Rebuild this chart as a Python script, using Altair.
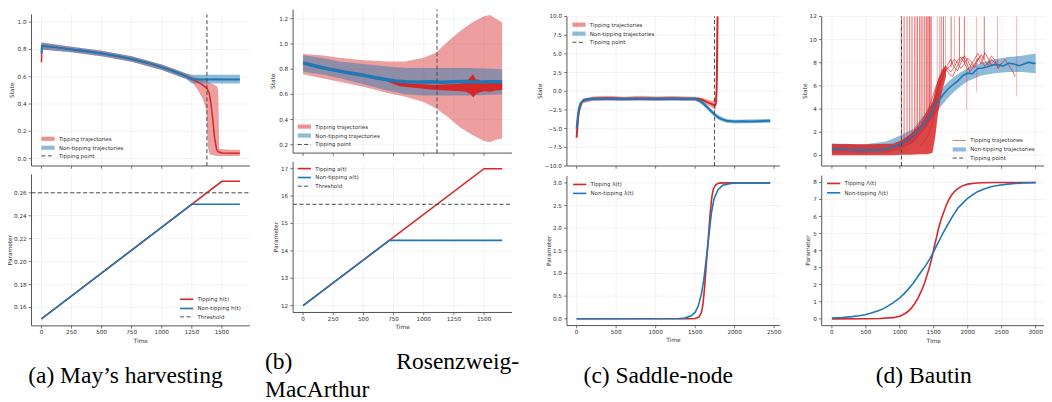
import altair as alt
import pandas as pd

W, H = 1044, 394
RED = "#d62728"
BLUE = "#1f77b4"
DASHC = "#4a4a4a"
GRIDC = "#ebebeb"
AXC = "#555555"
TXT = "#333333"
FONT = "DejaVu Sans"
SERIF = "Liberation Serif"

# ---------------- (a) May's harvesting ----------------
A_RED_T = [0, 4, 125, 250, 375, 500, 625, 750, 875, 1000, 1100, 1200, 1250, 1300, 1340, 1376, 1395, 1410, 1425, 1440, 1455, 1470, 1500, 1575, 1650]
A_RED_V = [0.705, 0.825, 0.815, 0.80, 0.786, 0.77, 0.752, 0.73, 0.703, 0.67, 0.64, 0.605, 0.585, 0.56, 0.54, 0.515, 0.48, 0.40, 0.28, 0.15, 0.07, 0.05, 0.042, 0.04, 0.04]
A_BLUE_T = [0, 4, 125, 250, 375, 500, 625, 750, 875, 1000, 1100, 1200, 1250, 1350, 1450, 1550, 1650]
A_BLUE_V = [0.77, 0.827, 0.815, 0.80, 0.786, 0.77, 0.752, 0.73, 0.703, 0.67, 0.64, 0.605, 0.582, 0.58, 0.582, 0.579, 0.58]
A_RBAND_T = [0, 250, 500, 750, 1000, 1200, 1250, 1300, 1340, 1370, 1385, 1400, 1460, 1470, 1478, 1560, 1650]
A_RBAND_LO = [0.80, 0.78, 0.75, 0.71, 0.65, 0.585, 0.565, 0.50, 0.44, 0.36, 0.08, 0.03, 0.02, 0.02, 0.02, 0.02, 0.02]
A_RBAND_HI = [0.85, 0.82, 0.79, 0.75, 0.69, 0.625, 0.605, 0.59, 0.575, 0.565, 0.56, 0.555, 0.53, 0.50, 0.07, 0.065, 0.065]
A_BBAND_T = [0, 250, 500, 750, 1000, 1200, 1250, 1650]
A_BBAND_LO = [0.80, 0.78, 0.75, 0.71, 0.65, 0.585, 0.55, 0.55]
A_BBAND_HI = [0.85, 0.82, 0.79, 0.75, 0.69, 0.625, 0.615, 0.615]
A_TIP = 1376
A_H_RED_T = [0, 1500, 1650]
A_H_RED_V = [0.15, 0.27, 0.27]
A_H_BLUE_T = [0, 1250, 1650]
A_H_BLUE_V = [0.15, 0.25, 0.25]
A_THRESH = 0.26

# ---------------- (b) Rosenzweig-MacArthur ----------------
B_BLUE_T = [0, 100, 217, 350, 490, 600, 700, 765, 850, 950, 1050, 1150, 1250, 1350, 1450, 1550, 1650]
B_BLUE_V = [0.85, 0.825, 0.80, 0.775, 0.754, 0.732, 0.716, 0.707, 0.70, 0.697, 0.70, 0.696, 0.70, 0.702, 0.697, 0.70, 0.70]
B_RED_T = [0, 100, 217, 350, 490, 600, 700, 760, 820, 900, 1000, 1100, 1176, 1250, 1320, 1370, 1396, 1410, 1425, 1440, 1470, 1500, 1540, 1588, 1620, 1650]
B_RED_V = [0.85, 0.825, 0.80, 0.775, 0.754, 0.732, 0.712, 0.695, 0.68, 0.672, 0.665, 0.66, 0.654, 0.652, 0.648, 0.66, 0.70, 0.62, 0.66, 0.64, 0.67, 0.655, 0.665, 0.66, 0.668, 0.665]
B_RCORE_T = [700, 800, 900, 1000, 1100, 1200, 1300, 1350, 1390, 1410, 1430, 1460, 1500, 1550, 1600, 1650]
B_RCORE_LO = [0.70, 0.665, 0.655, 0.645, 0.635, 0.63, 0.625, 0.62, 0.60, 0.575, 0.60, 0.615, 0.625, 0.62, 0.63, 0.635]
B_RCORE_HI = [0.72, 0.695, 0.685, 0.68, 0.675, 0.68, 0.685, 0.70, 0.74, 0.76, 0.72, 0.715, 0.69, 0.70, 0.69, 0.69]
B_RBAND_T = [0, 150, 300, 500, 700, 850, 1000, 1100, 1200, 1300, 1400, 1500, 1550, 1600, 1650]
B_RBAND_LO = [0.76, 0.73, 0.70, 0.66, 0.61, 0.58, 0.54, 0.49, 0.42, 0.34, 0.28, 0.23, 0.22, 0.24, 0.25]
B_RBAND_HI = [0.92, 0.91, 0.89, 0.87, 0.86, 0.86, 0.89, 0.93, 1.02, 1.10, 1.17, 1.22, 1.23, 1.20, 1.17]
B_BBAND_T = [0, 150, 300, 500, 700, 850, 1000, 1200, 1400, 1650]
B_BBAND_LO = [0.78, 0.76, 0.73, 0.68, 0.63, 0.60, 0.59, 0.59, 0.59, 0.60]
B_BBAND_HI = [0.91, 0.89, 0.86, 0.84, 0.82, 0.81, 0.81, 0.81, 0.81, 0.80]
B_TIP = 1110
B_A_RED_T = [0, 1500, 1650]
B_A_RED_V = [12, 17, 17]
B_A_BLUE_T = [0, 715, 1650]
B_A_BLUE_V = [12, 14.383, 14.383]
B_THRESH = 15.7

# ---------------- (c) Saddle-node ----------------
C_RED_T = [0, 15, 30, 50, 80, 120, 200, 400, 600, 800, 1000, 1200, 1400, 1500, 1550, 1600, 1650, 1700, 1730, 1755, 1765, 1772, 1777, 1781, 1784]
C_RED_V = [-6.2, -4.0, -2.6, -1.7, -1.3, -1.1, -1.0, -0.95, -1.0, -0.97, -1.0, -0.98, -1.0, -1.0, -1.05, -1.2, -1.45, -1.65, -1.8, -1.85, -1.4, 0.0, 3.0, 7.0, 10.0]
C_BLUE_T = [0, 15, 30, 50, 80, 120, 200, 400, 600, 800, 1000, 1200, 1400, 1500, 1550, 1600, 1650, 1700, 1750, 1800, 1850, 1900, 2000, 2100, 2200, 2300, 2450]
C_BLUE_V = [-5.0, -3.4, -2.3, -1.6, -1.25, -1.1, -1.0, -1.0, -1.02, -1.0, -1.0, -1.02, -1.0, -1.0, -1.2, -1.6, -2.1, -2.65, -3.15, -3.55, -3.8, -3.95, -4.05, -4.0, -4.05, -4.0, -3.95]
C_RBAND_T = [0, 30, 80, 200, 400, 600, 800, 1000, 1200, 1400, 1500, 1600, 1650, 1720, 1750, 1765, 1775, 1784]
C_RBAND_LO = [-6.6, -3.1, -1.6, -1.3, -1.25, -1.3, -1.25, -1.3, -1.25, -1.3, -1.3, -1.55, -1.8, -2.2, -2.5, -2.3, -1.0, 6.0]
C_RBAND_HI = [-5.4, -2.0, -1.0, -0.7, -0.6, -0.75, -0.6, -0.7, -0.65, -0.7, -0.75, -0.9, -1.1, -1.3, -1.0, 0.0, 10.0, 10.0]
C_BBAND_T = [0, 30, 80, 200, 1500, 1600, 1700, 1750, 1800, 1900, 2000, 2450]
C_BBAND_LO = [-5.5, -2.6, -1.5, -1.25, -1.25, -1.9, -2.95, -3.45, -3.85, -4.25, -4.3, -4.25]
C_BBAND_HI = [-4.5, -1.9, -1.0, -0.8, -0.8, -1.3, -2.3, -2.8, -3.2, -3.7, -3.8, -3.7]
C_TIP = 1745
C_L_RED_T = [0, 1450, 1500, 1550, 1580, 1600, 1620, 1640, 1655, 1670, 1690, 1710, 1730, 1760, 1800, 1900, 2450]
C_L_RED_V = [0.0, 0.0, 0.005, 0.04, 0.14, 0.33, 0.69, 1.17, 1.5, 1.85, 2.31, 2.67, 2.86, 2.96, 2.995, 3.0, 3.0]
C_L_BLUE_T = [0, 1300, 1370, 1450, 1500, 1540, 1580, 1610, 1640, 1660, 1685, 1710, 1740, 1790, 1850, 1950, 2050, 2450]
C_L_BLUE_V = [0.0, 0.005, 0.015, 0.065, 0.14, 0.28, 0.55, 0.86, 1.3, 1.6, 2.02, 2.38, 2.65, 2.85, 2.95, 2.99, 3.0, 3.0]

# ---------------- (d) Bautin ----------------
D_BLUE_T = [0, 200, 440, 600, 730, 830, 930, 1024, 1100, 1170, 1250, 1317, 1415, 1470, 1512, 1560, 1610, 1660, 1707, 1780, 1854, 1930, 2000, 2070, 2146, 2220, 2293, 2360, 2439, 2520, 2600, 2680, 2760, 2829, 2900, 2960, 3000]
D_BLUE_V = [0.57, 0.5, 0.45, 0.45, 0.47, 0.6, 0.8, 1.0, 1.3, 1.57, 2.0, 2.43, 3.14, 3.7, 4.29, 4.7, 5.0, 5.4, 5.71, 6.1, 6.43, 6.9, 7.1, 7.05, 7.5, 7.55, 7.65, 7.8, 7.85, 7.7, 7.95, 7.9, 7.75, 7.9, 8.05, 7.95, 7.95]
D_BBAND_T = [0, 400, 800, 1000, 1200, 1400, 1500, 1600, 1700, 1800, 1900, 2000, 2200, 2400, 2600, 2800, 3000]
D_BBAND_LO = [0.2, 0.15, 0.2, 0.5, 1.1, 2.5, 3.4, 4.2, 4.9, 5.5, 6.0, 6.4, 6.9, 7.1, 7.2, 7.2, 7.1]
D_BBAND_HI = [1.0, 0.9, 1.2, 1.7, 2.3, 3.8, 4.8, 5.6, 6.3, 6.8, 7.2, 7.5, 8.0, 8.3, 8.5, 8.6, 8.8]
D_RBAND_T = [0, 500, 900, 1024, 1150, 1300, 1400, 1480, 1520, 1560, 1620, 1680]
D_RBAND_LO = [0.0, 0.0, 0.0, 0.05, 0.05, 0.1, 0.1, 0.2, 1.5, 3.5, 5.5, 6.8]
D_RBAND_HI = [1.0, 0.95, 1.0, 1.3, 1.8, 2.6, 3.6, 4.6, 5.6, 6.5, 7.4, 7.8]
D_TR1_T = [1000, 1100, 1200, 1300, 1380, 1450, 1500, 1550, 1600, 1650, 1700, 1750, 1800, 1850, 1900, 1950, 2000, 2050, 2100, 2150, 2200, 2250, 2300, 2350, 2400, 2450, 2500, 2550, 2600, 2650, 2700]
D_TR1_V = [1.0, 1.2, 1.6, 2.2, 2.8, 3.5, 4.3, 5.5, 6.4, 7.0, 7.5, 7.8, 8.3, 8.0, 7.5, 7.9, 8.4, 8.1, 7.6, 8.2, 8.7, 8.2, 7.8, 8.3, 8.0, 7.6, 7.9, 8.3, 7.8, 7.4, 6.8]
D_TR2_T = [1150, 1250, 1350, 1450, 1500, 1550, 1600, 1650, 1700, 1750, 1800, 1850, 1900, 1950, 2000, 2050, 2100, 2150, 2200, 2250, 2300, 2350, 2400, 2450, 2500]
D_TR2_V = [1.0, 1.5, 2.3, 3.3, 4.4, 5.6, 6.6, 7.3, 7.6, 7.2, 7.6, 8.2, 8.5, 8.0, 7.4, 7.8, 8.3, 8.8, 8.3, 7.7, 8.0, 8.6, 8.2, 7.5, 8.0]
D_TR3_T = [1300, 1400, 1480, 1540, 1600, 1650, 1700, 1750, 1800, 1850, 1900, 1950, 2000, 2050, 2100, 2150, 2200, 2250, 2300, 2350, 2400, 2450]
D_TR3_V = [0.8, 1.5, 2.8, 4.8, 6.2, 7.0, 7.8, 8.3, 7.6, 7.3, 8.0, 8.6, 8.2, 7.6, 7.9, 8.4, 7.9, 8.9, 8.4, 7.7, 7.9, 8.2]
D_TR4_T = [1050, 1150, 1250, 1350, 1420, 1480, 1530, 1580, 1630, 1680, 1730, 1780, 1830, 1880, 1930, 1985, 2030, 2080, 2132, 2180]
D_TR4_V = [1.2, 1.7, 2.4, 3.2, 4.0, 5.0, 5.9, 6.6, 7.1, 7.5, 7.0, 6.8, 7.5, 8.1, 8.5, 8.0, 7.2, 7.6, 8.1, 8.5]
D_SPIKE_T = [1024, 1063, 1107, 1146, 1180, 1220, 1259, 1293, 1327, 1366, 1390, 1415, 1439, 1463, 1610, 1644, 1756, 1878, 1951, 2244]
D_SPIKE_LO = [0.8, 1.0, 1.1, 1.3, 1.5, 1.7, 2.0, 2.2, 2.5, 3.0, 3.2, 3.5, 3.8, 4.2, 7.0, 7.2, 7.6, 8.0, 8.0, 8.3]
D_SPIKE_HI = [12] * 20
D_SPIKE2_T = [1240, 1310, 1345, 1400, 1430, 1450, 1551, 1585, 1673, 1805, 1985, 2132, 2439, 2722]
D_SPIKE2_LO = [1.8, 2.3, 2.7, 3.3, 3.7, 4.0, 6.0, 6.5, 7.4, 7.8, 3.9, 5.5, 7.5, 5.1]
D_SPIKE2_HI = [12, 12, 12, 12, 12, 12, 12, 12, 12, 12, 8.2, 12, 12, 12]
D_TIP = 1025
D_L_RED_T = [0, 500, 700, 900, 1000, 1073, 1120, 1170, 1220, 1268, 1320, 1366, 1400, 1439, 1465, 1488, 1512, 1537, 1570, 1610, 1650, 1683, 1720, 1756, 1800, 1854, 1920, 2000, 2100, 2195, 2400, 3000]
D_L_RED_V = [0.0, 0.005, 0.02, 0.07, 0.15, 0.3, 0.43, 0.63, 0.9, 1.22, 1.65, 2.12, 2.55, 3.05, 3.45, 3.85, 4.3, 4.72, 5.3, 5.85, 6.3, 6.65, 6.98, 7.22, 7.45, 7.64, 7.8, 7.9, 7.95, 7.98, 8.0, 8.0]
D_L_BLUE_T = [0, 150, 293, 400, 488, 580, 683, 760, 829, 900, 976, 1050, 1122, 1200, 1268, 1330, 1390, 1440, 1488, 1550, 1610, 1670, 1732, 1790, 1854, 1930, 2000, 2070, 2146, 2240, 2341, 2460, 2585, 2700, 2829, 3000]
D_L_BLUE_V = [0.05, 0.08, 0.13, 0.18, 0.24, 0.34, 0.47, 0.6, 0.76, 0.94, 1.15, 1.42, 1.73, 2.1, 2.5, 2.85, 3.18, 3.5, 3.86, 4.35, 4.83, 5.28, 5.71, 6.1, 6.49, 6.8, 7.07, 7.27, 7.46, 7.62, 7.75, 7.84, 7.9, 7.94, 7.97, 7.99]

# tick values
XT_AB = [0, 250, 500, 750, 1000, 1250, 1500]
XT_C = [0, 500, 1000, 1500, 2000, 2500]
XT_D = [0, 500, 1000, 1500, 2000, 2500, 3000]

LEG_TOP = ["Tipping trajectories", "Non-tipping trajectories", "Tipping point"]
CAPTIONS = ["(a) May\u2019s harvesting", "(b)", "Rosenzweig-", "MacArthur", "(c) Saddle-node", "(d) Bautin"]

# ---------------- layout (pixels) ----------------
PANELS = {
    "a_top": dict(xd=[-82.5, 1732.5], xr=[23.7, 243.7], yd=[-0.054, 1.056], yr=[157.7, 5.0],
                  xt=XT_AB, yt=[0.0, 0.2, 0.4, 0.6, 0.8, 1.0], yfmt=".1f", xlab=False, ytitle="State", ytx=-19.4),
    "a_bot": dict(xd=[-82.5, 1732.5], xr=[23.7, 243.7], yd=[0.144, 0.276], yr=[318.8, 166.2],
                  xt=XT_AB, yt=[0.16, 0.18, 0.20, 0.22, 0.24, 0.26], yfmt=".2f", xlab=True, ytitle="Parameter", ytx=-21.4),
    "b_top": dict(xd=[-82.5, 1732.5], xr=[287.3, 508.0], yd=[0.134, 1.273], yr=[144.7, 0.0],
                  xt=XT_AB, yt=[0.2, 0.4, 0.6, 0.8, 1.0, 1.2], yfmt=".1f", xlab=False, ytitle="State", ytx=-20.3),
    "b_bot": dict(xd=[-82.5, 1732.5], xr=[287.3, 508.0], yd=[11.75, 17.25], yr=[305.3, 153.5],
                  xt=XT_AB, yt=[12, 13, 14, 15, 16, 17], yfmt="d", xlab=True, ytitle="Parameter", ytx=-17.6),
    "c_top": dict(xd=[-122.5, 2572.5], xr=[563.25, 777.8], yd=[-10, 10], yr=[157.7, 7.0],
                  xt=XT_C, yt=[-10, -7.5, -5, -2.5, 0, 2.5, 5, 7.5, 10], yfmt=".1f", xlab=False, ytitle="State", ytx=-27.3),
    "c_bot": dict(xd=[-122.5, 2572.5], xr=[563.25, 777.8], yd=[-0.15, 3.15], yr=[318.5, 167.9],
                  xt=XT_C, yt=[0, 0.5, 1.0, 1.5, 2.0, 2.5, 3.0], yfmt=".1f", xlab=True, ytitle="Parameter", ytx=-18.0),
    "d_top": dict(xd=[-150, 3150], xr=[820.0, 1045.8], yd=[-0.92, 12], yr=[157.7, 7.0],
                  xt=XT_D, yt=[0, 2, 4, 6, 8, 10, 12], yfmt="d", xlab=False, ytitle="State", ytx=-17.3),
    "d_bot": dict(xd=[-150, 3150], xr=[820.0, 1045.8], yd=[-0.4, 8.4], yr=[318.6, 167.4],
                  xt=XT_D, yt=[0, 1, 2, 3, 4, 5, 6, 7, 8], yfmt="d", xlab=True, ytitle="Parameter", ytx=-13.7),
}

TICK_FS = 5.7
TITLE_FS = 5.9


def scales(P):
    xs = alt.Scale(domain=P["xd"], range=P["xr"], nice=False, zero=False)
    ys = alt.Scale(domain=P["yd"], range=P["yr"], nice=False, zero=False, clamp=True)
    return xs, ys


def frame(P):
    """Grid lines, spines, ticks, tick labels and axis titles drawn through the panel scales."""
    xs, ys = scales(P)
    x0, x1 = P["xd"]
    y0, y1 = P["yd"]
    dx = pd.DataFrame({"v": P["xt"]})
    dy = pd.DataFrame({"v": P["yt"]})
    one = pd.DataFrame({"k": [0]})
    out = []
    # grid
    out.append(alt.Chart(dx).mark_rule(color=GRIDC, strokeWidth=0.6).encode(
        x=alt.X("v:Q", scale=xs, axis=None),
        y=alt.Y(datum=y0, scale=ys, axis=None), y2=alt.Y2(datum=y1)))
    out.append(alt.Chart(dy).mark_rule(color=GRIDC, strokeWidth=0.6).encode(
        y=alt.Y("v:Q", scale=ys, axis=None),
        x=alt.X(datum=x0, scale=xs, axis=None), x2=alt.X2(datum=x1)))
    # spines (left and bottom)
    out.append(alt.Chart(one).mark_rule(color=AXC, strokeWidth=1).encode(
        x=alt.X(datum=x0, scale=xs, axis=None), x2=alt.X2(datum=x1),
        y=alt.Y(datum=y0, scale=ys, axis=None)))
    out.append(alt.Chart(one).mark_rule(color=AXC, strokeWidth=1).encode(
        y=alt.Y(datum=y0, scale=ys, axis=None), y2=alt.Y2(datum=y1),
        x=alt.X(datum=x0, scale=xs, axis=None)))
    # ticks
    out.append(alt.Chart(dx).mark_rule(color=AXC, strokeWidth=0.8, y2Offset=2.8).encode(
        x=alt.X("v:Q", scale=xs, axis=None),
        y=alt.Y(datum=y0, scale=ys, axis=None), y2=alt.Y2(datum=y0)))
    out.append(alt.Chart(dy).mark_rule(color=AXC, strokeWidth=0.8, x2Offset=-2.8).encode(
        y=alt.Y("v:Q", scale=ys, axis=None),
        x=alt.X(datum=x0, scale=xs, axis=None), x2=alt.X2(datum=x0)))
    # tick labels
    if P["xlab"]:
        out.append(alt.Chart(dx).mark_text(font=FONT, fontSize=TICK_FS, color=TXT, baseline="middle",
                                           align="center", dy=6.6).encode(
            x=alt.X("v:Q", scale=xs, axis=None), y=alt.Y(datum=y0, scale=ys, axis=None),
            text=alt.Text("v:Q", format="d")))
        out.append(alt.Chart(pd.DataFrame({"s": ["Time"]})).mark_text(
            font=FONT, fontSize=TITLE_FS, color=TXT, baseline="middle", align="center", dy=15.0).encode(
            x=alt.X(datum=(x0 + x1) / 2, scale=xs, axis=None), y=alt.Y(datum=y0, scale=ys, axis=None),
            text="s:N"))
    out.append(alt.Chart(dy).mark_text(font=FONT, fontSize=TICK_FS, color=TXT, baseline="middle",
                                       align="right", dx=-5.0).encode(
        y=alt.Y("v:Q", scale=ys, axis=None), x=alt.X(datum=x0, scale=xs, axis=None),
        text=alt.Text("v:Q", format=P["yfmt"])))
    out.append(alt.Chart(pd.DataFrame({"s": [P["ytitle"]]})).mark_text(
        font=FONT, fontSize=TITLE_FS, color=TXT, baseline="middle", align="center", angle=270,
        xOffset=P["ytx"]).encode(
        x=alt.X(datum=x0, scale=xs, axis=None), y=alt.Y(datum=(y0 + y1) / 2, scale=ys, axis=None),
        text="s:N"))
    return out


def band(P, t, lo, hi, color, opacity):
    xs, ys = scales(P)
    df = pd.DataFrame({"t": t, "lo": lo, "hi": hi})
    return alt.Chart(df).mark_area(color=color, opacity=opacity).encode(
        x=alt.X("t:Q", scale=xs, axis=None), y=alt.Y("lo:Q", scale=ys, axis=None), y2="hi:Q")


def line(P, t, v, color, width, opacity=1.0):
    xs, ys = scales(P)
    df = pd.DataFrame({"t": t, "v": v, "i": list(range(len(t)))})
    return alt.Chart(df).mark_line(color=color, strokeWidth=width, opacity=opacity).encode(
        x=alt.X("t:Q", scale=xs, axis=None), y=alt.Y("v:Q", scale=ys, axis=None), order="i:Q")


def multiline(P, series, color, width, opacity):
    xs, ys = scales(P)
    rows = []
    for k, (t, v) in enumerate(series):
        for i, (a, b) in enumerate(zip(t, v)):
            rows.append({"id": k, "t": a, "v": b, "i": i})
    return alt.Chart(pd.DataFrame(rows)).mark_line(color=color, strokeWidth=width, opacity=opacity).encode(
        x=alt.X("t:Q", scale=xs, axis=None), y=alt.Y("v:Q", scale=ys, axis=None),
        detail="id:N", order="i:Q")


def spikes(P, t, lo, hi, color, width, opacity):
    xs, ys = scales(P)
    df = pd.DataFrame({"t": t, "lo": lo, "hi": hi})
    return alt.Chart(df).mark_rule(color=color, strokeWidth=width, opacity=opacity).encode(
        x=alt.X("t:Q", scale=xs, axis=None), y=alt.Y("lo:Q", scale=ys, axis=None), y2="hi:Q")


def vline(P, t):
    xs, ys = scales(P)
    return alt.Chart(pd.DataFrame({"t": [t]})).mark_rule(
        color=DASHC, strokeWidth=1, strokeDash=[4, 2.5]).encode(
        x=alt.X("t:Q", scale=xs, axis=None),
        y=alt.Y(datum=P["yd"][0], scale=ys, axis=None), y2=alt.Y2(datum=P["yd"][1]))


def hline(P, v):
    xs, ys = scales(P)
    return alt.Chart(pd.DataFrame({"v": [v]})).mark_rule(
        color=DASHC, strokeWidth=1, strokeDash=[4, 2.5]).encode(
        y=alt.Y("v:Q", scale=ys, axis=None),
        x=alt.X(datum=P["xd"][0], scale=xs, axis=None), x2=alt.X2(datum=P["xd"][1]))


def legend(entries, sx0, tx, rows):
    sx1 = sx0 + 13.3
    out = []
    for (label, kind), y in zip(entries, rows):
        df = pd.DataFrame({"label": [label]})
        base = alt.Chart(df)
        if kind.startswith("patch"):
            col = RED if kind.endswith("red") else BLUE
            out.append(base.mark_rect(color=col, opacity=0.5).encode(
                x=alt.value(sx0), x2=alt.value(sx1), y=alt.value(y - 2.1), y2=alt.value(y + 2.1)))
        elif kind == "dash":
            out.append(base.mark_rule(color=DASHC, strokeWidth=1, strokeDash=[4, 2.5]).encode(
                x=alt.value(sx0), x2=alt.value(sx1), y=alt.value(y)))
        elif kind == "thin_red":
            out.append(base.mark_rule(color=RED, strokeWidth=0.8, opacity=0.8).encode(
                x=alt.value(sx0), x2=alt.value(sx1), y=alt.value(y)))
        else:
            col = RED if kind.endswith("red") else BLUE
            out.append(base.mark_rule(color=col, strokeWidth=1.6).encode(
                x=alt.value(sx0), x2=alt.value(sx1), y=alt.value(y)))
        out.append(base.mark_text(align="left", baseline="middle", font=FONT, fontSize=5.5, color=TXT).encode(
            x=alt.value(tx), y=alt.value(y), text="label:N"))
    return out


def caption(text, x, y, align):
    return alt.Chart(pd.DataFrame({"c": [text]})).mark_text(
        font=SERIF, fontSize=23.7, color="black", align=align, baseline="alphabetic").encode(
        x=alt.value(x), y=alt.value(y), text="c:N")


layers = []

# (a) top
P = PANELS["a_top"]
layers.append(alt.layer(*frame(P),
    band(P, A_RBAND_T, A_RBAND_LO, A_RBAND_HI, RED, 0.45),
    band(P, A_BBAND_T, A_BBAND_LO, A_BBAND_HI, BLUE, 0.5),
    line(P, A_RED_T, A_RED_V, RED, 1.5),
    line(P, A_BLUE_T, A_BLUE_V, BLUE, 2.0),
    vline(P, A_TIP)))
# (a) bottom
P = PANELS["a_bot"]
layers.append(alt.layer(*frame(P),
    line(P, A_H_RED_T, A_H_RED_V, RED, 1.6),
    line(P, A_H_BLUE_T, A_H_BLUE_V, BLUE, 1.6),
    hline(P, A_THRESH)))
# (b) top
P = PANELS["b_top"]
layers.append(alt.layer(*frame(P),
    band(P, B_RBAND_T, B_RBAND_LO, B_RBAND_HI, RED, 0.45),
    band(P, B_BBAND_T, B_BBAND_LO, B_BBAND_HI, BLUE, 0.45),
    band(P, B_RCORE_T, B_RCORE_LO, B_RCORE_HI, RED, 1.0),
    line(P, B_RED_T, B_RED_V, RED, 2.0),
    line(P, B_BLUE_T, B_BLUE_V, BLUE, 3.5),
    vline(P, B_TIP)))
# (b) bottom
P = PANELS["b_bot"]
layers.append(alt.layer(*frame(P),
    line(P, B_A_RED_T, B_A_RED_V, RED, 1.6),
    line(P, B_A_BLUE_T, B_A_BLUE_V, BLUE, 1.6),
    hline(P, B_THRESH)))
# (c) top
P = PANELS["c_top"]
layers.append(alt.layer(*frame(P),
    band(P, C_RBAND_T, C_RBAND_LO, C_RBAND_HI, RED, 0.45),
    band(P, C_BBAND_T, C_BBAND_LO, C_BBAND_HI, BLUE, 0.45),
    line(P, C_RED_T, C_RED_V, RED, 2.0),
    line(P, C_BLUE_T, C_BLUE_V, BLUE, 2.0),
    vline(P, C_TIP)))
# (c) bottom
P = PANELS["c_bot"]
layers.append(alt.layer(*frame(P),
    line(P, C_L_RED_T, C_L_RED_V, RED, 1.6),
    line(P, C_L_BLUE_T, C_L_BLUE_V, BLUE, 1.6)))
# (d) top
P = PANELS["d_top"]
layers.append(alt.layer(*frame(P),
    band(P, D_BBAND_T, D_BBAND_LO, D_BBAND_HI, BLUE, 0.5),
    band(P, D_RBAND_T, D_RBAND_LO, D_RBAND_HI, RED, 0.85),
    spikes(P, D_SPIKE2_T, D_SPIKE2_LO, D_SPIKE2_HI, RED, 1.0, 0.35),
    spikes(P, D_SPIKE_T, D_SPIKE_LO, D_SPIKE_HI, RED, 0.9, 0.75),
    multiline(P, [(D_TR1_T, D_TR1_V), (D_TR2_T, D_TR2_V), (D_TR3_T, D_TR3_V), (D_TR4_T, D_TR4_V)], RED, 0.8, 0.85),
    line(P, D_BLUE_T, D_BLUE_V, BLUE, 1.6),
    vline(P, D_TIP)))
# (d) bottom
P = PANELS["d_bot"]
layers.append(alt.layer(*frame(P),
    line(P, D_L_RED_T, D_L_RED_V, RED, 1.6),
    line(P, D_L_BLUE_T, D_L_BLUE_V, BLUE, 1.6)))

# legends
layers += legend(list(zip(LEG_TOP, ["patch_red", "patch_blue", "dash"])), 33.7, 51.3, [130.3, 139.3, 147.5])
layers += legend([("Tipping h(t)", "line_red"), ("Non-tipping h(t)", "line_blue"), ("Threshold", "dash")],
                 173.4, 191.0, [292.0, 301.3, 309.7])
layers += legend(list(zip(LEG_TOP, ["patch_red", "patch_blue", "dash"])), 292.0, 309.7, [118.0, 127.0, 136.0])
layers += legend([("Tipping a(t)", "line_red"), ("Non-tipping a(t)", "line_blue"), ("Threshold", "dash")],
                 292.0, 309.7, [160.3, 169.3, 178.0])
layers += legend(list(zip(LEG_TOP, ["patch_red", "patch_blue", "dash"])), 568.7, 586.3, [15.3, 24.3, 33.0])
layers += legend([("Tipping \u03bb(t)", "line_red"), ("Non-tipping \u03bb(t)", "line_blue")],
                 569.4, 587.0, [176.3, 185.3])
layers += legend(list(zip(LEG_TOP, ["thin_red", "patch_blue", "dash"])), 952.0, 969.7, [132.0, 141.0, 149.7])
layers += legend([("Tipping \u039b(t)", "line_red"), ("Non-tipping \u039b(t)", "line_blue")],
                 825.4, 843.0, [175.3, 184.7])

# captions
layers.append(caption(CAPTIONS[0], 118.3, 376.8, "center"))
layers.append(caption(CAPTIONS[1], 259.0, 362.0, "left"))
layers.append(caption(CAPTIONS[2], 515.0, 362.0, "right"))
layers.append(caption(CAPTIONS[3], 259.0, 390.3, "left"))
layers.append(caption(CAPTIONS[4], 655.3, 376.3, "center"))
layers.append(caption(CAPTIONS[5], 922.8, 376.3, "center"))

chart = alt.layer(*layers).resolve_scale(x="independent", y="independent").properties(
    width=W, height=H, padding=0, autosize=alt.AutoSizeParams(type="none")
).configure_view(stroke=None)

chart.save("out.html", embed_options={"renderer": "svg", "actions": False})
